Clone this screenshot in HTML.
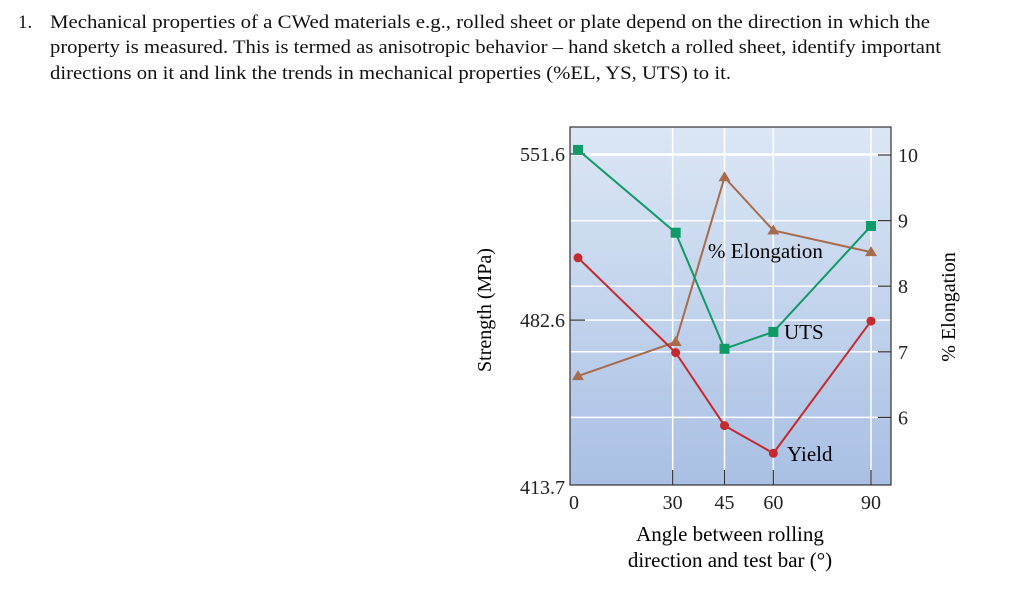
<!DOCTYPE html>
<html><head><meta charset="utf-8"><style>
body{margin:0;background:#fff;}
svg{display:block;}
svg text{font-family:"Liberation Serif","Times New Roman",serif;}
</style></head><body>
<svg width="1033" height="594" font-family="Liberation Serif, serif">
<defs><linearGradient id="bg" x1="0" y1="0" x2="0" y2="1"><stop offset="0" stop-color="#dce7f5"/><stop offset="1" stop-color="#a9c0e4"/></linearGradient></defs>
<g font-size="19" fill="#111" font-family="Liberation Serif, serif">
<text x="18" y="28">1.</text>
<text x="50" y="28" textLength="880" lengthAdjust="spacingAndGlyphs">Mechanical properties of a CWed materials e.g., rolled sheet or  plate depend on the direction in which the</text>
<text x="50" y="53" textLength="891" lengthAdjust="spacingAndGlyphs">property is measured. This is termed as anisotropic behavior – hand sketch a rolled sheet, identify important</text>
<text x="50" y="79" textLength="681" lengthAdjust="spacingAndGlyphs">directions on it and link the trends in mechanical properties (%EL, YS, UTS) to it.</text>
</g>
<rect x="570" y="127" width="321" height="358" fill="url(#bg)" stroke="#333" stroke-width="1.2"/>
<g id="grid"></g>
<g id="axes" font-size="20" fill="#222"></g>
<g id="series"></g>
<text transform="translate(491,310) rotate(-90)" text-anchor="middle" font-size="20">Strength (MPa)</text>
<text transform="translate(955,307) rotate(-90)" text-anchor="middle" font-size="20">% Elongation</text>
<text x="730" y="541" text-anchor="middle" font-size="21">Angle between rolling</text>
<text x="730" y="567" text-anchor="middle" font-size="21">direction and test bar (°)</text>
<text x="708" y="258" font-size="21">% Elongation</text>
<text x="784" y="339" font-size="21">UTS</text>
<text x="787" y="461" font-size="21">Yield</text>
</svg>
<script>
const angles=[0,30,45,60,90];
const utsValues=[553.3,518.9,470.7,477.7,521.7];
const yieldValues=[508.5,469.1,438.8,427.3,482.2];
const elongValues=[6.63,7.15,9.66,8.85,8.52];
const leftTicks=[551.6,482.6,413.7];
const rightTicks=[10,9,8,7,6];
const NS="http://www.w3.org/2000/svg";
const x=a=>578+a*(871-578)/90;
const yL=v=>154+(551.6-v)*(486-154)/(551.6-413.7);
const yR=v=>155+(10-v)*65.6;
function mk(t,at,parent){const e=document.createElementNS(NS,t);for(const k in at)e.setAttribute(k,at[k]);parent.appendChild(e);return e;}
const grid=document.getElementById('grid'),axes=document.getElementById('axes'),ser=document.getElementById('series');
rightTicks.forEach(v=>{const l=mk('line',{x1:571,x2:890,y1:yR(v),y2:yR(v),stroke:'#fff','stroke-width':1.5},grid);


const t=mk('line',{x1:878,x2:891,y1:yR(v),y2:yR(v),stroke:'#333','stroke-width':1.2},axes);


const tx=mk('text',{x:898,y:yR(v)+7},axes);tx.textContent=v;

});
leftTicks.forEach(v=>{if(v>414){const l=mk('line',{x1:571,x2:890,y1:yL(v),y2:yL(v),stroke:'#fff','stroke-width':1.5},grid);


const t=mk('line',{x1:570,x2:585,y1:yL(v),y2:yL(v),stroke:'#333','stroke-width':1.2},axes);

}
const tx=mk('text',{x:565,y:(v>414?yL(v)+7:494),'text-anchor':'end'},axes);tx.textContent=v.toFixed(1);

});
angles.forEach(a=>{if(a>0){const l=mk('line',{x1:x(a)-3*(a==30),x2:x(a)-3*(a==30),y1:128,y2:484,stroke:'#fff','stroke-width':1.5},grid);


const t=mk('line',{x1:x(a)-3*(a==30),x2:x(a)-3*(a==30),y1:470,y2:485,stroke:'#333','stroke-width':1.2},axes);

}
const tx=mk('text',{x:a==0?574:x(a)-3*(a==30),y:509,'text-anchor':'middle'},axes);tx.textContent=a;

});
function series(vals,yf,color,shape,name){
const pts=vals.map((v,i)=>[x(angles[i]),yf(v)]);
const pl=mk('polyline',{points:pts.map(p=>p.join(',')).join(' '),fill:'none',stroke:color,'stroke-width':2},ser);


pts.forEach(p=>{let m;
if(shape=='sq')m=mk('rect',{x:p[0]-5,y:p[1]-5,width:10,height:10,fill:color},ser);
else if(shape=='c')m=mk('circle',{cx:p[0],cy:p[1],r:4.5,fill:color},ser);
else m=mk('polygon',{points:`${p[0]},${p[1]-6} ${p[0]-6},${p[1]+4} ${p[0]+6},${p[1]+4}`,fill:color},ser);

});}
series(elongValues,yR,'#a86c4c','t','elongation');
series(utsValues,yL,'#0f9a66','sq','uts');
series(yieldValues,yL,'#c42a2e','c','yield');
</script>
</body></html>
